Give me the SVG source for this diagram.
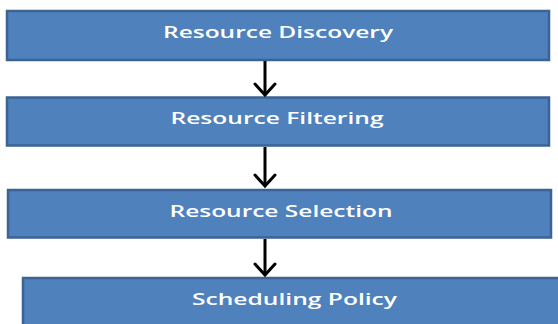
<svg xmlns="http://www.w3.org/2000/svg" width="558" height="324" viewBox="0 0 558 324">
<defs>
<style>
.box{fill:#4F81BD;stroke:#3B6393;stroke-width:2.5}
.lbl{fill:#FFFFFF;font-family:"Open Sans","Liberation Sans",sans-serif;font-size:17px;font-weight:600;text-anchor:middle}
.conn{stroke:#000000;stroke-width:3;fill:none}
.head{stroke:#000000;stroke-width:3;fill:none;stroke-linecap:round;stroke-linejoin:miter}
</style>
</defs>
<rect width="558" height="324" fill="#FFFFFF"/>
<g id="node-discovery">
<rect class="box" x="7" y="11" width="542" height="49"/>
<text class="lbl" x="278" y="38" textLength="230" lengthAdjust="spacingAndGlyphs">Resource Discovery</text>
</g>
<g id="node-filtering">
<rect class="box" x="7" y="97.5" width="542" height="48"/>
<text class="lbl" x="277" y="123.5" textLength="213" lengthAdjust="spacingAndGlyphs">Resource Filtering</text>
</g>
<g id="node-selection">
<rect class="box" x="8" y="190" width="543" height="47.5"/>
<text class="lbl" x="281" y="217" textLength="223" lengthAdjust="spacingAndGlyphs">Resource Selection</text>
</g>
<g id="node-policy">
<rect class="box" x="23" y="278" width="540" height="52"/>
<text class="lbl" x="294.5" y="305" textLength="205" lengthAdjust="spacingAndGlyphs">Scheduling Policy</text>
</g>
<g id="connectors">
<line class="conn" x1="265" y1="61" x2="265" y2="95"/>
<polyline class="head" points="255,84 265,95 275,84"/>
<line class="conn" x1="265" y1="147" x2="265" y2="186"/>
<polyline class="head" points="255,175 265,186 275,175"/>
<line class="conn" x1="265" y1="239" x2="265" y2="275"/>
<polyline class="head" points="255,264 265,275 275,264"/>
</g>
</svg>
